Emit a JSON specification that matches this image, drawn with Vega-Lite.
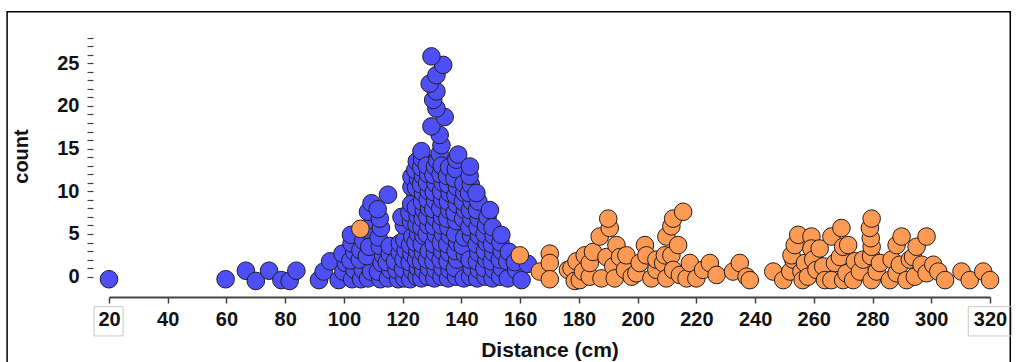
{
"$schema": "https://vega.github.io/schema/vega-lite/v6.json",
"width": 881, "height": 267,
"autosize": {"type": "none"},
"padding": {"left": 109, "top": 30, "right": 28, "bottom": 65},
"background": "white",
"config": {"view": {"stroke": null}, "font": "Liberation Sans"},
"datasets": {
"dots": [
{"d":110.5,"c":4.4,"s":"B"},{"d":110.5,"c":1.6,"s":"B"},{"d":121.8,"c":5.5,"s":"B"},{"d":124.3,"c":9.3,"s":"B"},{"d":139.6,"c":5.5,"s":"B"},{"d":140.1,"c":1.4,"s":"B"},{"d":156.5,"c":0.4,"s":"B"},
{"d":20,"c":-0.3,"s":"A"},{"d":59.7,"c":-0.3,"s":"A"},{"d":66.6,"c":0.7,"s":"A"},{"d":70,"c":-0.5,"s":"A"},{"d":74.5,"c":0.7,"s":"A"},{"d":78.7,"c":-0.4,"s":"A"},{"d":81.5,"c":-0.5,"s":"A"},{"d":83.8,"c":0.7,"s":"A"},{"d":91.5,"c":-0.4,"s":"A"},{"d":93.1,"c":0.6,"s":"A"},{"d":95.3,"c":1.8,"s":"A"},
{"d":98.2,"c":-0.4,"s":"A"},{"d":99.8,"c":0.6,"s":"A"},{"d":100.6,"c":1.6,"s":"A"},{"d":99.5,"c":2.7,"s":"A"},
{"d":102.8,"c":-0.3,"s":"A"},{"d":103.6,"c":0.8,"s":"A"},{"d":102.2,"c":1.9,"s":"A"},{"d":103.5,"c":2.9,"s":"A"},{"d":102.6,"c":3.9,"s":"A"},{"d":102.4,"c":4.9,"s":"A"},
{"d":105.8,"c":-0.3,"s":"A"},{"d":106.4,"c":0.8,"s":"A"},{"d":105.4,"c":2.0,"s":"A"},{"d":105.6,"c":3.1,"s":"A"},{"d":106.6,"c":4.2,"s":"A"},
{"d":108.2,"c":-0.2,"s":"A"},{"d":109.2,"c":0.6,"s":"A"},{"d":107.8,"c":2.4,"s":"A"},{"d":108.6,"c":3.5,"s":"A"},{"d":107.7,"c":5.5,"s":"A"},{"d":109.9,"c":6.6,"s":"A"},{"d":108.2,"c":7.6,"s":"A"},{"d":109.4,"c":8.6,"s":"A"},
{"d":112.4,"c":-0.3,"s":"A"},{"d":111.6,"c":0.6,"s":"A"},{"d":112.8,"c":1.6,"s":"A"},{"d":113.3,"c":2.5,"s":"A"},{"d":112.2,"c":3.6,"s":"A"},{"d":111.8,"c":4.6,"s":"A"},{"d":112.6,"c":5.7,"s":"A"},{"d":112.2,"c":6.8,"s":"A"},{"d":111.5,"c":7.9,"s":"A"},
{"d":115.0,"c":-0.2,"s":"A"},{"d":115.8,"c":0.8,"s":"A"},{"d":114.6,"c":1.7,"s":"A"},{"d":115.6,"c":2.7,"s":"A"},{"d":115.6,"c":3.6,"s":"A"},{"d":115.0,"c":9.6,"s":"A"},
{"d":118.5,"c":-0.3,"s":"A"},{"d":117.9,"c":0.8,"s":"A"},{"d":117.4,"c":1.8,"s":"A"},{"d":119.0,"c":2.8,"s":"A"},{"d":119.0,"c":3.9,"s":"A"},
{"d":120.6,"c":-0.2,"s":"A"},{"d":120.1,"c":0.9,"s":"A"},{"d":120.3,"c":2.0,"s":"A"},{"d":121.0,"c":3.1,"s":"A"},{"d":120.6,"c":4.3,"s":"A"},{"d":120.4,"c":6.0,"s":"A"},{"d":119.6,"c":7.0,"s":"A"},
{"d":122.6,"c":-0.3,"s":"A"},{"d":123.2,"c":0.7,"s":"A"},{"d":122.4,"c":1.7,"s":"A"},{"d":123.0,"c":2.7,"s":"A"},{"d":122.5,"c":3.7,"s":"A"},{"d":123.3,"c":4.7,"s":"A"},{"d":122.8,"c":6.5,"s":"A"},{"d":122.3,"c":7.5,"s":"A"},{"d":122.9,"c":8.5,"s":"A"},{"d":123.0,"c":10.5,"s":"A"},{"d":123.0,"c":11.7,"s":"A"},
{"d":124.8,"c":0.0,"s":"A"},{"d":125.2,"c":1.0,"s":"A"},{"d":124.6,"c":2.0,"s":"A"},{"d":125.0,"c":3.0,"s":"A"},{"d":124.4,"c":4.0,"s":"A"},{"d":125.3,"c":5.0,"s":"A"},{"d":124.7,"c":6.1,"s":"A"},{"d":125.1,"c":7.1,"s":"A"},{"d":124.5,"c":8.1,"s":"A"},{"d":124.6,"c":10.4,"s":"A"},{"d":125.2,"c":11.5,"s":"A"},{"d":124.3,"c":12.5,"s":"A"},{"d":124.8,"c":13.5,"s":"A"},
{"d":126.4,"c":-0.2,"s":"A"},{"d":127.0,"c":0.8,"s":"A"},{"d":126.3,"c":1.8,"s":"A"},{"d":126.9,"c":2.8,"s":"A"},{"d":126.5,"c":3.8,"s":"A"},{"d":127.1,"c":4.8,"s":"A"},{"d":126.4,"c":5.8,"s":"A"},{"d":126.8,"c":6.8,"s":"A"},{"d":127.2,"c":7.8,"s":"A"},{"d":126.6,"c":8.8,"s":"A"},{"d":126.9,"c":9.8,"s":"A"},{"d":126.2,"c":10.8,"s":"A"},{"d":126.9,"c":11.8,"s":"A"},{"d":126.3,"c":12.8,"s":"A"},{"d":126.6,"c":13.8,"s":"A"},{"d":126.4,"c":14.7,"s":"A"},
{"d":128.6,"c":0.0,"s":"A"},{"d":129.0,"c":1.0,"s":"A"},{"d":128.3,"c":2.0,"s":"A"},{"d":128.9,"c":3.0,"s":"A"},{"d":128.2,"c":5.0,"s":"A"},{"d":128.8,"c":6.0,"s":"A"},{"d":128.4,"c":7.0,"s":"A"},{"d":129.0,"c":8.0,"s":"A"},{"d":128.5,"c":9.0,"s":"A"},{"d":128.9,"c":10.0,"s":"A"},{"d":128.3,"c":11.0,"s":"A"},{"d":128.7,"c":12.0,"s":"A"},{"d":128.2,"c":13.0,"s":"A"},
{"d":130.8,"c":-0.2,"s":"A"},{"d":131.2,"c":0.8,"s":"A"},{"d":130.5,"c":1.8,"s":"A"},{"d":131.0,"c":2.8,"s":"A"},{"d":130.6,"c":3.8,"s":"A"},{"d":131.3,"c":4.9,"s":"A"},{"d":130.7,"c":5.9,"s":"A"},{"d":131.1,"c":6.9,"s":"A"},{"d":130.4,"c":7.9,"s":"A"},{"d":131.0,"c":8.9,"s":"A"},{"d":130.6,"c":9.9,"s":"A"},{"d":131.2,"c":10.9,"s":"A"},{"d":130.5,"c":11.9,"s":"A"},{"d":131.0,"c":12.9,"s":"A"},{"d":131.8,"c":13.6,"s":"A"},{"d":132.6,"c":14.4,"s":"A"},{"d":133.2,"c":15.4,"s":"A"},{"d":132.6,"c":16.6,"s":"A"},{"d":129.8,"c":17.6,"s":"A"},{"d":134.3,"c":18.7,"s":"A"},{"d":131.5,"c":19.7,"s":"A"},{"d":130.4,"c":20.7,"s":"A"},{"d":131.5,"c":21.7,"s":"A"},{"d":129.2,"c":22.6,"s":"A"},{"d":131.5,"c":23.6,"s":"A"},{"d":133.8,"c":24.8,"s":"A"},{"d":129.8,"c":25.8,"s":"A"},
{"d":133.2,"c":0.0,"s":"A"},{"d":133.6,"c":1.0,"s":"A"},{"d":132.9,"c":2.0,"s":"A"},{"d":133.5,"c":3.0,"s":"A"},{"d":133.0,"c":4.0,"s":"A"},{"d":133.7,"c":5.0,"s":"A"},{"d":133.1,"c":6.0,"s":"A"},{"d":133.4,"c":7.0,"s":"A"},{"d":132.8,"c":8.0,"s":"A"},{"d":133.5,"c":9.0,"s":"A"},{"d":133.1,"c":10.0,"s":"A"},{"d":133.6,"c":11.0,"s":"A"},{"d":132.9,"c":12.0,"s":"A"},{"d":133.3,"c":13.0,"s":"A"},
{"d":135.5,"c":-0.2,"s":"A"},{"d":136.0,"c":0.8,"s":"A"},{"d":135.3,"c":1.8,"s":"A"},{"d":135.8,"c":2.8,"s":"A"},{"d":135.2,"c":3.8,"s":"A"},{"d":136.1,"c":4.8,"s":"A"},{"d":135.6,"c":5.8,"s":"A"},{"d":135.2,"c":6.8,"s":"A"},{"d":135.9,"c":7.8,"s":"A"},{"d":135.4,"c":8.8,"s":"A"},{"d":136.0,"c":9.8,"s":"A"},{"d":135.5,"c":10.8,"s":"A"},{"d":135.1,"c":11.8,"s":"A"},{"d":135.8,"c":12.8,"s":"A"},
{"d":138.2,"c":0.0,"s":"A"},{"d":137.8,"c":1.0,"s":"A"},{"d":138.5,"c":2.0,"s":"A"},{"d":138.0,"c":3.0,"s":"A"},{"d":138.6,"c":4.0,"s":"A"},{"d":137.9,"c":5.0,"s":"A"},{"d":138.3,"c":6.5,"s":"A"},{"d":137.7,"c":7.5,"s":"A"},{"d":138.4,"c":8.5,"s":"A"},{"d":138.0,"c":9.5,"s":"A"},{"d":138.5,"c":10.5,"s":"A"},{"d":137.6,"c":11.5,"s":"A"},{"d":138.1,"c":12.6,"s":"A"},{"d":138.3,"c":13.7,"s":"A"},{"d":138.9,"c":14.3,"s":"A"},
{"d":140.8,"c":-0.2,"s":"A"},{"d":141.2,"c":2.6,"s":"A"},{"d":140.4,"c":3.6,"s":"A"},{"d":141.0,"c":4.6,"s":"A"},{"d":140.6,"c":6.8,"s":"A"},{"d":141.2,"c":7.8,"s":"A"},{"d":140.5,"c":8.8,"s":"A"},{"d":141.0,"c":9.8,"s":"A"},{"d":140.7,"c":10.9,"s":"A"},
{"d":143.0,"c":0.0,"s":"A"},{"d":143.5,"c":1.0,"s":"A"},{"d":142.8,"c":2.0,"s":"A"},{"d":143.3,"c":4.8,"s":"A"},{"d":142.7,"c":5.8,"s":"A"},{"d":143.4,"c":6.8,"s":"A"},{"d":142.9,"c":7.8,"s":"A"},{"d":143.5,"c":8.8,"s":"A"},{"d":142.6,"c":9.8,"s":"A"},{"d":143.2,"c":10.8,"s":"A"},{"d":142.8,"c":11.8,"s":"A"},{"d":142.9,"c":12.9,"s":"A"},
{"d":145.4,"c":-0.2,"s":"A"},{"d":146.0,"c":0.8,"s":"A"},{"d":145.3,"c":1.8,"s":"A"},{"d":145.8,"c":2.8,"s":"A"},{"d":145.2,"c":3.8,"s":"A"},{"d":146.0,"c":4.8,"s":"A"},{"d":145.5,"c":5.8,"s":"A"},{"d":145.9,"c":6.8,"s":"A"},{"d":145.3,"c":7.8,"s":"A"},{"d":145.8,"c":8.8,"s":"A"},{"d":145.1,"c":9.8,"s":"A"},
{"d":148.2,"c":0.0,"s":"A"},{"d":147.8,"c":1.0,"s":"A"},{"d":148.5,"c":2.0,"s":"A"},{"d":148.0,"c":3.0,"s":"A"},{"d":148.6,"c":4.0,"s":"A"},{"d":147.9,"c":5.0,"s":"A"},{"d":148.4,"c":6.0,"s":"A"},{"d":148.9,"c":7.0,"s":"A"},{"d":149.7,"c":7.8,"s":"A"},
{"d":150.6,"c":-0.2,"s":"A"},{"d":151.0,"c":0.8,"s":"A"},{"d":150.3,"c":1.8,"s":"A"},{"d":150.9,"c":2.8,"s":"A"},{"d":150.4,"c":3.8,"s":"A"},{"d":151.0,"c":4.8,"s":"A"},{"d":150.6,"c":5.8,"s":"A"},
{"d":153.2,"c":0.0,"s":"A"},{"d":153.8,"c":1.0,"s":"A"},{"d":153.1,"c":2.0,"s":"A"},{"d":153.7,"c":3.0,"s":"A"},{"d":153.3,"c":4.0,"s":"A"},{"d":153.6,"c":4.9,"s":"A"},
{"d":155.8,"c":-0.2,"s":"A"},{"d":155.6,"c":1.8,"s":"A"},{"d":156.2,"c":2.9,"s":"A"},
{"d":158.6,"c":0.8,"s":"A"},{"d":158.2,"c":1.7,"s":"A"},{"d":160.5,"c":-0.4,"s":"A"},{"d":162.6,"c":1.5,"s":"A"},
{"d":105.6,"c":5.6,"s":"B"},{"d":159.9,"c":2.5,"s":"B"},
{"d":166.7,"c":0.6,"s":"B"},{"d":170.1,"c":2.7,"s":"B"},{"d":170.1,"c":1.6,"s":"B"},{"d":170.1,"c":-0.3,"s":"B"},{"d":176.3,"c":0.8,"s":"B"},{"d":177.5,"c":1.0,"s":"B"},{"d":178.6,"c":-0.5,"s":"B"},{"d":179.2,"c":1.8,"s":"B"},{"d":180.3,"c":-0.4,"s":"B"},{"d":181.4,"c":0.6,"s":"B"},{"d":182.0,"c":2.5,"s":"B"},{"d":183.7,"c":0.0,"s":"B"},{"d":183.7,"c":1.6,"s":"B"},{"d":184.8,"c":2.9,"s":"B"},{"d":187.1,"c":4.7,"s":"B"},{"d":187.7,"c":-0.2,"s":"B"},{"d":189.4,"c":2.3,"s":"B"},{"d":190.5,"c":5.7,"s":"B"},{"d":190.0,"c":6.8,"s":"B"},{"d":191.7,"c":1.2,"s":"B"},{"d":192.2,"c":-0.2,"s":"B"},{"d":192.8,"c":3.7,"s":"B"},{"d":194.0,"c":2.3,"s":"B"},{"d":195.7,"c":0.8,"s":"B"},{"d":196.2,"c":2.5,"s":"B"},{"d":198.0,"c":0.0,"s":"B"},{"d":199.6,"c":0.4,"s":"B"},{"d":200.7,"c":1.6,"s":"B"},{"d":202.5,"c":3.7,"s":"B"},{"d":203.0,"c":2.5,"s":"B"},{"d":204.7,"c":-0.2,"s":"B"},{"d":206.4,"c":0.8,"s":"B"},{"d":206.4,"c":2.0,"s":"B"},{"d":208.7,"c":1.6,"s":"B"},{"d":209.3,"c":2.5,"s":"B"},{"d":209.8,"c":4.7,"s":"B"},{"d":209.8,"c":-0.2,"s":"B"},{"d":211.5,"c":5.9,"s":"B"},{"d":211.5,"c":2.5,"s":"B"},{"d":212.1,"c":0.8,"s":"B"},{"d":212.1,"c":6.8,"s":"B"},{"d":213.8,"c":3.7,"s":"B"},{"d":214.4,"c":0.2,"s":"B"},{"d":215.5,"c":7.6,"s":"B"},{"d":216.7,"c":-0.2,"s":"B"},{"d":217.8,"c":1.6,"s":"B"},{"d":220.0,"c":-0.2,"s":"B"},{"d":222.3,"c":0.8,"s":"B"},{"d":224.6,"c":1.6,"s":"B"},{"d":226.9,"c":0.2,"s":"B"},{"d":232.5,"c":0.6,"s":"B"},{"d":234.8,"c":1.6,"s":"B"},{"d":237.1,"c":0.0,"s":"B"},{"d":238.2,"c":-0.4,"s":"B"},
{"d":246.2,"c":0.6,"s":"B"},{"d":249.6,"c":-0.4,"s":"B"},{"d":252.0,"c":0.6,"s":"B"},{"d":253.0,"c":2.0,"s":"B"},{"d":252.4,"c":2.5,"s":"B"},{"d":253.5,"c":3.7,"s":"B"},{"d":254.7,"c":4.9,"s":"B"},{"d":255.8,"c":0.6,"s":"B"},{"d":256.2,"c":-0.4,"s":"B"},{"d":257.0,"c":1.6,"s":"B"},{"d":258.0,"c":0.0,"s":"B"},{"d":259.2,"c":4.7,"s":"B"},{"d":259.2,"c":3.3,"s":"B"},{"d":259.8,"c":2.0,"s":"B"},{"d":260.9,"c":0.8,"s":"B"},{"d":262.0,"c":3.3,"s":"B"},{"d":263.2,"c":1.2,"s":"B"},{"d":263.8,"c":-0.4,"s":"B"},{"d":266.0,"c":4.7,"s":"B"},{"d":266.0,"c":-0.4,"s":"B"},{"d":267.2,"c":1.6,"s":"B"},{"d":268.9,"c":2.3,"s":"B"},{"d":269.4,"c":5.7,"s":"B"},{"d":270.0,"c":3.5,"s":"B"},{"d":270.0,"c":-0.4,"s":"B"},{"d":271.1,"c":0.4,"s":"B"},{"d":271.7,"c":3.7,"s":"B"},{"d":274.0,"c":1.8,"s":"B"},{"d":273.4,"c":-0.4,"s":"B"},{"d":275.7,"c":0.6,"s":"B"},{"d":276.8,"c":2.0,"s":"B"},{"d":279.5,"c":2.4,"s":"B"},{"d":279.7,"c":3.5,"s":"B"},{"d":279.4,"c":4.5,"s":"B"},{"d":279.1,"c":5.7,"s":"B"},{"d":279.7,"c":6.8,"s":"B"},{"d":279.7,"c":-0.4,"s":"B"},{"d":281.4,"c":0.6,"s":"B"},{"d":282.5,"c":1.6,"s":"B"},{"d":285.9,"c":-0.4,"s":"B"},{"d":286.5,"c":2.0,"s":"B"},{"d":288.2,"c":0.4,"s":"B"},{"d":288.2,"c":3.7,"s":"B"},{"d":289.3,"c":1.4,"s":"B"},{"d":289.9,"c":4.7,"s":"B"},{"d":291.6,"c":-0.4,"s":"B"},{"d":292.7,"c":2.0,"s":"B"},{"d":293.8,"c":2.3,"s":"B"},{"d":294.4,"c":0.0,"s":"B"},{"d":295.0,"c":3.5,"s":"B"},{"d":296.7,"c":1.4,"s":"B"},{"d":298.4,"c":0.4,"s":"B"},{"d":298.4,"c":4.7,"s":"B"},{"d":300.7,"c":1.4,"s":"B"},{"d":302.4,"c":0.6,"s":"B"},{"d":304.7,"c":-0.4,"s":"B"},{"d":310.3,"c":0.6,"s":"B"},{"d":313.1,"c":-0.4,"s":"B"},{"d":317.7,"c":0.6,"s":"B"},{"d":320.0,"c":-0.4,"s":"B"}
],
"one": [{}]
},
"layer": [
{
"data": {"name": "dots"},
"mark": {"type": "circle", "size": 310, "stroke": "#1e1e1e", "strokeWidth": 1, "opacity": 1},
"encoding": {
"x": {"field": "d", "type": "quantitative", "title": "Distance (cm)",
"scale": {"domain": [20, 320], "nice": false, "zero": false},
"axis": {"values": [20,40,60,80,100,120,140,160,180,200,220,240,260,280,300,320], "tickCount": 16, "grid": false, "domainColor": "#444", "domainWidth": 2, "tickColor": "#444", "tickWidth": 1.5, "tickSize": 6, "labelFont": "Liberation Sans", "labelFontSize": 20, "labelFontWeight": "bold", "labelColor": "#111", "labelPadding": 6, "labelFlush": false, "labelOverlap": false, "titleFont": "Liberation Sans", "titleFontSize": 21, "titleFontWeight": "bold", "titleColor": "#111", "titlePadding": 10}},
"y": {"field": "c", "type": "quantitative", "title": "count",
"scale": {"domain": [-2.38, 28.89], "nice": false, "zero": false},
"axis": {"values": [0,1,2,3,4,5,6,7,8,9,10,11,12,13,14,15,16,17,18,19,20,21,22,23,24,25,26,27,28], "tickCount": 29, "labelExpr": "datum.value % 5 === 0 ? datum.label : ''", "labelOverlap": false, "grid": false, "domain": false, "offset": 16, "tickColor": "#444", "tickWidth": 1.2, "tickSize": 6, "labelFont": "Liberation Sans", "labelFontSize": 20, "labelFontWeight": "bold", "labelColor": "#111", "labelPadding": 8, "titleFont": "Liberation Sans", "titleFontSize": 20, "titleFontWeight": "bold", "titleColor": "#111", "titlePadding": 25, "titleY": 126}},
"color": {"field": "s", "type": "nominal", "scale": {"domain": ["A", "B"], "range": ["#4f4ff8", "#ff9a55"]}, "legend": null}
}
},
{
"data": {"name": "one"},
"mark": {"type": "rect", "fill": null, "stroke": "#000000", "strokeWidth": 1.5},
"encoding": {
"x": {"datum": -14.7, "type": "quantitative"},
"x2": {"datum": 326.9},
"y": {"datum": 31.03, "type": "quantitative"},
"y2": {"datum": -20}
}
},
{
"data": {"name": "one"},
"mark": {"type": "rect", "fill": null, "stroke": "#c8c8c8", "strokeWidth": 1},
"encoding": {
"x": {"datum": 14.9, "type": "quantitative"},
"x2": {"datum": 24.8},
"y": {"datum": -3.51, "type": "quantitative"},
"y2": {"datum": -6.94}
}
},
{
"data": {"name": "one"},
"mark": {"type": "rect", "fill": null, "stroke": "#c8c8c8", "strokeWidth": 1},
"encoding": {
"x": {"datum": 312.6, "type": "quantitative"},
"x2": {"datum": 327.4},
"y": {"datum": -3.51, "type": "quantitative"},
"y2": {"datum": -6.94}
}
}
]
}
